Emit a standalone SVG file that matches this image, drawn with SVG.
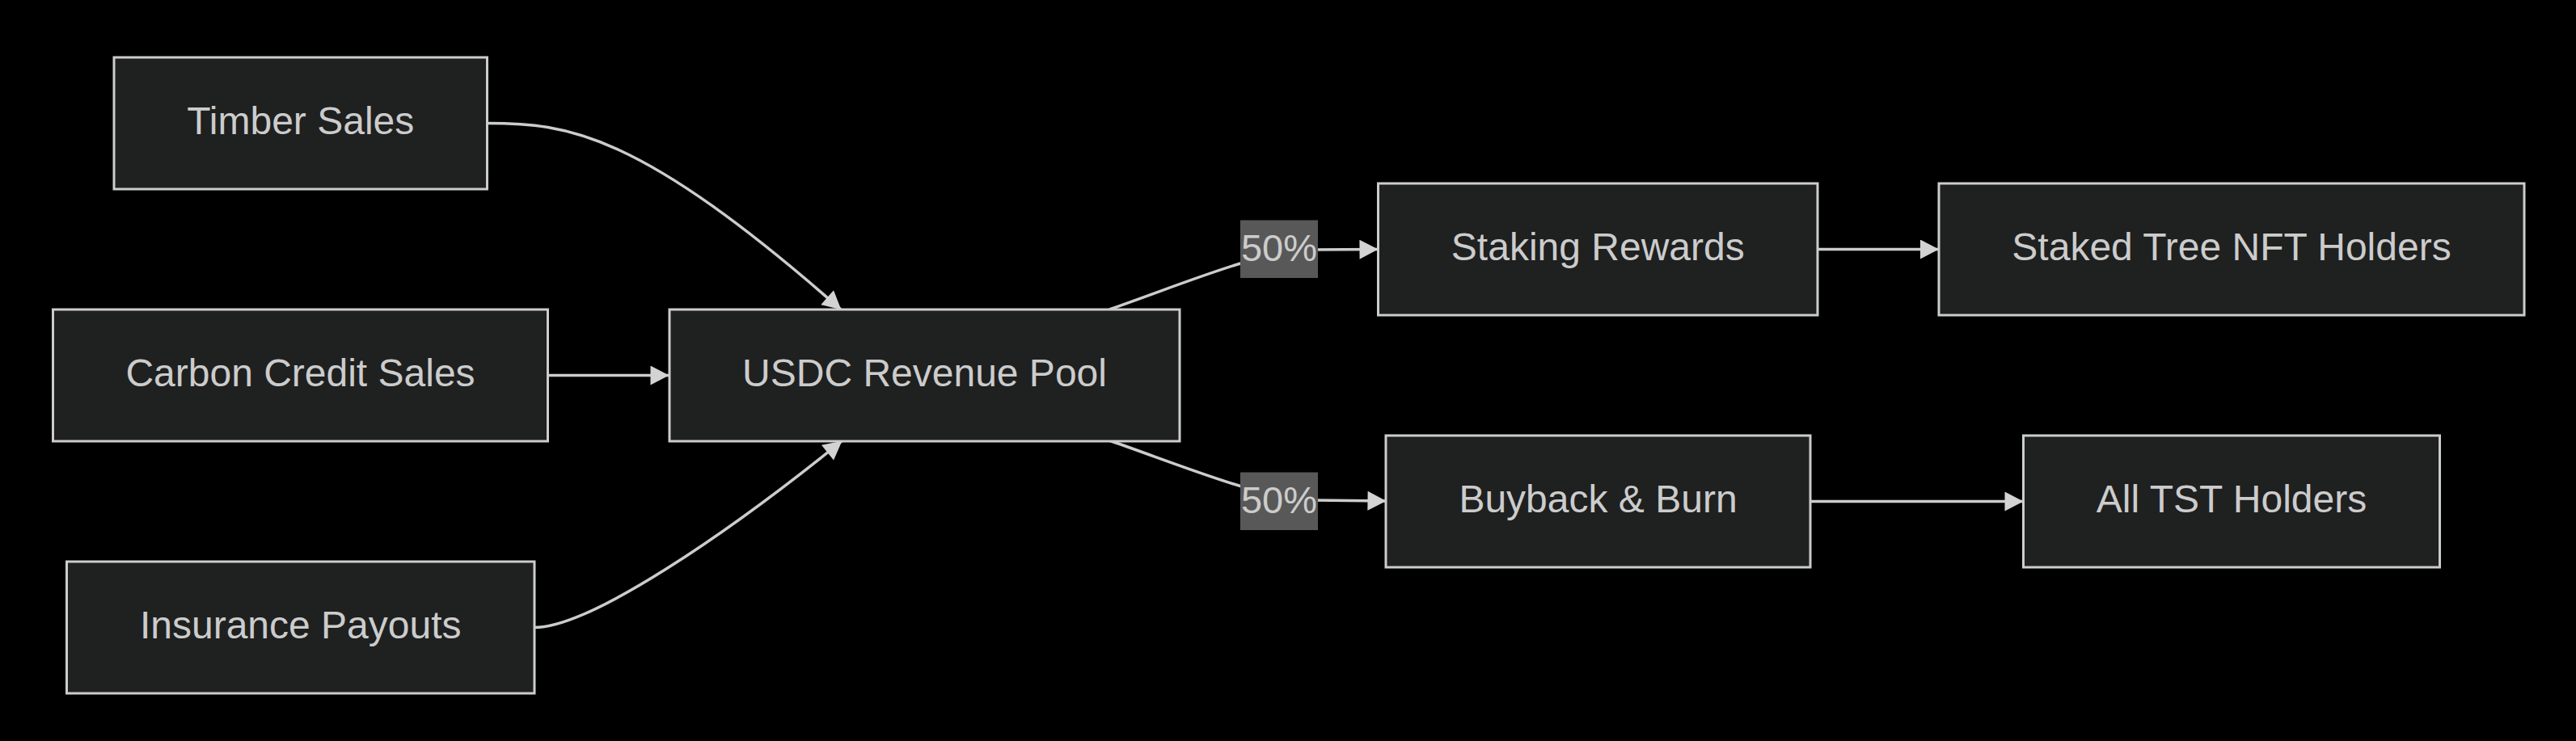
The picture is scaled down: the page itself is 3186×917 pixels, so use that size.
<svg xmlns="http://www.w3.org/2000/svg" width="3186" height="917" viewBox="0 0 3186 917">
<style>
.bg{fill:#000}
.node rect{fill:#1f2020;stroke:#cccccc;stroke-width:3}
.node text,.lbl text{font-family:"Liberation Sans",Arial,sans-serif;font-size:48px;fill:#cccccc;text-anchor:middle}
.lbl text{font-size:47px}
.edge{fill:none;stroke:#cccccc;stroke-width:3.5}
.lbl rect{fill:#585858}
</style>
<defs>
<marker id="arr" markerUnits="userSpaceOnUse" markerWidth="24" markerHeight="24" viewBox="0 0 23 24" refX="22.5" refY="12" orient="auto">
<path d="M0,0 L23,12 L0,24 z" fill="#d3d3d3"/>
</marker>
</defs>
<rect class="bg" x="0" y="0" width="3186" height="917"/>
<g id="connectors">
<path class="edge" d="M602,152.5 C702,152.5 790,163 1040,383" marker-end="url(#arr)"/>
<path class="edge" d="M677,464.5 L827,464.5" marker-end="url(#arr)"/>
<path class="edge" d="M661,776.5 C730,776.5 900,660 1041,546" marker-end="url(#arr)"/>
<path class="edge" d="M1372,383 C1480,345 1560,310 1625,309 L1704,308.5" marker-end="url(#arr)"/>
<path class="edge" d="M1372,545 C1480,583 1560,617 1625,619 L1714,620" marker-end="url(#arr)"/>
<path class="edge" d="M2248,308.5 L2397.5,308.5" marker-end="url(#arr)"/>
<path class="edge" d="M2239,620.5 L2502,620.5" marker-end="url(#arr)"/>
<g class="lbl" id="label-top"><rect x="1534" y="272.5" width="96" height="71.5"/><text x="1582" y="322.5">50%</text></g>
<g class="lbl" id="label-bottom"><rect x="1534" y="584.5" width="96" height="71.5"/><text x="1582" y="634.5">50%</text></g>
</g>
<g class="node" id="timber"><rect x="141" y="71" width="461.5" height="163"/><text x="371.75" y="166">Timber Sales</text></g>
<g class="node" id="carbon"><rect x="65.5" y="383" width="612" height="163"/><text x="371.5" y="478">Carbon Credit Sales</text></g>
<g class="node" id="insurance"><rect x="82.5" y="695" width="578.5" height="163"/><text x="371.75" y="790">Insurance Payouts</text></g>
<g class="node" id="usdc"><rect x="828" y="383" width="631" height="163"/><text x="1143.5" y="478">USDC Revenue Pool</text></g>
<g class="node" id="staking"><rect x="1704.5" y="227" width="543.5" height="163"/><text x="1976.25" y="322">Staking Rewards</text></g>
<g class="node" id="buyback"><rect x="1714" y="539" width="525" height="163"/><text x="1976.5" y="634">Buyback &amp; Burn</text></g>
<g class="node" id="staked"><rect x="2398" y="227" width="724" height="163"/><text x="2760" y="322">Staked Tree NFT Holders</text></g>
<g class="node" id="alltst"><rect x="2502.5" y="539" width="515" height="163"/><text x="2760" y="634">All TST Holders</text></g>
</svg>
